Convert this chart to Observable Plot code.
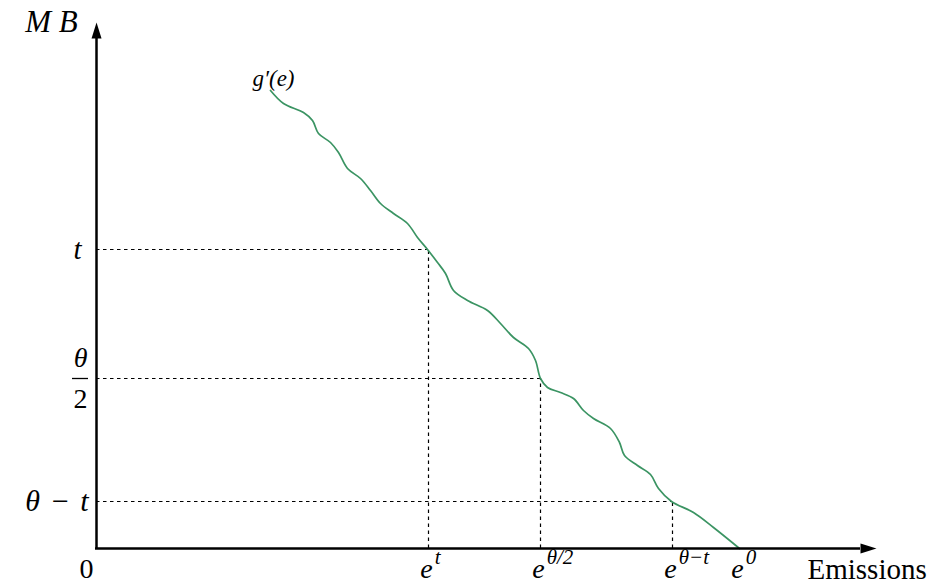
<!DOCTYPE html>
<html>
<head>
<meta charset="utf-8">
<script src="https://cdn.jsdelivr.net/npm/d3@7"></script>
<script src="https://cdn.jsdelivr.net/npm/@observablehq/plot@0.6"></script>
<style>
  html, body { margin: 0; padding: 0; background: #fff; }
  #chart svg { display: block; }
</style>
</head>
<body>
<div id="chart"></div>
<script>
// ---- Data (units: emissions e, marginal benefit MB) ----
const curveE  = [174,187,207,216,222,234,242,251,264,274,284,297,311,321,331,341,349,357,371,391,404,417,432,439,444,451,464,477,487,497,514,523,528,541,554,562,575,597,617,643];
const curveMB = [458,445,436,428,415,406,396,380,370,358,345,335,325,311,299,286,275,258,248,238,225,211,200,188,170,161,156,150,138,130,120,106, 93, 83, 74, 60, 47, 36, 21,  0];

const levelNames = ["t", "θ/2", "θ\u2004−\u2004t"];
const levelMB    = [299, 170, 47];
const levelE     = [332, 444, 576];
const levelESup  = ["t", "θ/2", "θ−t"];

const e0Value = 643;
const e0Sup   = "0";

const axisMaxE  = 764;
const axisMaxMB = 510;

const curveLabel = "g′(e)";
const yTitle = "M\u2005B";
const xTitle = "Emissions";
const originLabel = "0";

// ---- Build tables ----
const curve = curveE.map((e, i) => ({e, mb: curveMB[i]}));
const levels = levelMB.map((mb, i) => ({mb, e: levelE[i], name: levelNames[i]}));
const eTicks = levelE.map((e, i) => ({e, sup: levelESup[i]})).concat([{e: e0Value, sup: e0Sup}]);

const FONT = "Liberation Serif";
const MAIN = 28, SUP = 21;
const cv = document.createElement("canvas").getContext("2d");
function tw(text, size) { cv.font = `italic ${size}px 'Liberation Serif'`; return cv.measureText(text).width; }
const ew = tw("e", MAIN);
// the base "e" is centred on its tick; the superscript follows it
eTicks.forEach(d => { d.j = d.e - 2 + ew / 2; });

const tLevel = levels.filter(d => d.name === "t");
const fracLevel = levels.filter(d => d.name === "θ/2");
const diffLevel = levels.filter(d => d.name !== "t" && d.name !== "θ/2");

const T = {fontFamily: FONT, fill: "#000", lineAnchor: "middle"};

const chart = Plot.plot({
  width: 935,
  height: 583,
  marginLeft: 96,
  marginRight: 0,
  marginTop: 0,
  marginBottom: 35,
  x: {domain: [0, 839], axis: null},
  y: {domain: [0, 548], axis: null},
  style: {background: "#fff", overflow: "visible"},
  marks: [
    // dashed guides
    Plot.ruleY(levels, {y: "mb", x1: 0, x2: "e", stroke: "#000", strokeWidth: 1.2, strokeDasharray: "3.5,3.5"}),
    Plot.ruleX(levels, {x: "e", y1: 0, y2: "mb", stroke: "#000", strokeWidth: 1.2, strokeDasharray: "3.5,3.5"}),
    // curve
    Plot.line(curve, {x: "e", y: "mb", curve: "catmull-rom", stroke: "#3b9463", strokeWidth: 1.7}),
    // axes with arrowheads
    Plot.ruleX([0], {y1: 0, y2: axisMaxMB, stroke: "#000", strokeWidth: 2.5}),
    Plot.ruleY([0], {x1: -1, x2: axisMaxE, stroke: "#000", strokeWidth: 2.5}),
    Plot.vector([{x: 0, y: axisMaxMB}], {x: "x", y: "y", shape: "spike", length: 16, r: 5, rotate: 0, anchor: "start", fill: "#000", stroke: "none"}),
    Plot.vector([{x: axisMaxE, y: 0}], {x: "x", y: "y", shape: "spike", length: 16, r: 5, rotate: 90, anchor: "start", fill: "#000", stroke: "none"}),
    // y tick labels
    Plot.text(tLevel, {...T, x: -15, y: "mb", text: "name", textAnchor: "end", fontSize: 29, fontStyle: "italic"}),
    Plot.text(diffLevel, {...T, x: -8, y: "mb", text: "name", textAnchor: "end", fontSize: 30, fontStyle: "italic"}),
    Plot.text(fracLevel, {...T, x: -16, y: d => d.mb + 20, text: () => "θ", fontSize: MAIN, fontStyle: "italic"}),
    Plot.text(fracLevel, {...T, x: -16, y: d => d.mb - 21, text: () => "2", fontSize: MAIN}),
    Plot.ruleY(fracLevel, {y: "mb", x1: -24, x2: -8, stroke: "#000", strokeWidth: 1.3}),
    // x tick labels: e with superscripts
    Plot.text(eTicks, {...T, x: "j", y: -21, text: () => "e", textAnchor: "end", fontSize: MAIN, fontStyle: "italic"}),
    Plot.text(eTicks, {...T, x: d => d.j + 2, y: -9, text: "sup", textAnchor: "start", fontSize: SUP, fontStyle: "italic"}),
    // origin, titles, curve label
    Plot.text([originLabel], {...T, x: -10, y: -21, text: d => d, fontSize: MAIN}),
    Plot.text([xTitle], {...T, x: 711, y: -21, text: d => d, textAnchor: "start", fontSize: 29}),
    Plot.text([yTitle], {...T, x: -45, y: 526, text: d => d, fontSize: 31, fontStyle: "italic"}),
    Plot.text([curveLabel], {...T, x: 177, y: 470, text: d => d, fontSize: 23, fontStyle: "italic"})
  ]
});
document.getElementById("chart").appendChild(chart);
</script>
</body>
</html>
